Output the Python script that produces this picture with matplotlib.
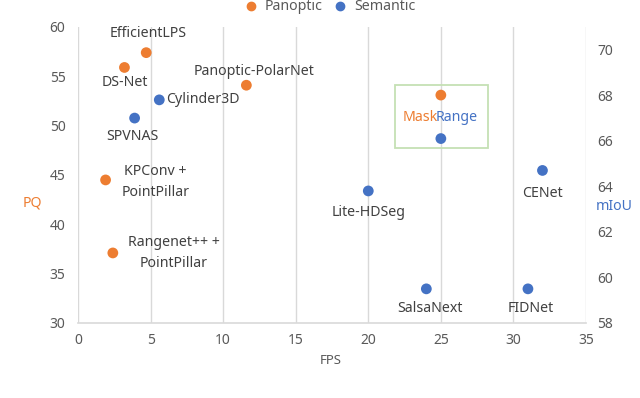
import matplotlib
matplotlib.use("Agg")
import matplotlib.pyplot as plt
from matplotlib.patches import Rectangle
from matplotlib.lines import Line2D

plt.rcParams['font.family'] = ['Noto Sans', 'DejaVu Sans']

ORANGE = '#ED7D31'
BLUE = '#4472C4'
GRAY = '#595959'
GRID = '#d9d9d9'
LBL = '#404040'
FS = 10.2

# Panoptic (PQ, left axis)
pan_names = ['EfficientLPS', 'DS-Net', 'Panoptic-PolarNet', 'KPConv +\nPointPillar',
             'Rangenet++ +\nPointPillar', 'MaskRange']
pan_fps = [4.7, 3.2, 11.6, 1.9, 2.4, 25.0]
pan_pq = [57.4, 55.9, 54.1, 44.5, 37.1, 53.1]

# Semantic (mIoU, right axis)
sem_names = ['Cylinder3D', 'SPVNAS', 'MaskRange', 'CENet', 'Lite-HDSeg', 'SalsaNext', 'FIDNet']
sem_fps = [5.6, 3.9, 25.0, 32.0, 20.0, 24.0, 31.0]
sem_miou = [67.8, 67.0, 66.1, 64.7, 63.8, 59.5, 59.5]

x_ticks = [0, 5, 10, 15, 20, 25, 30, 35]
pq_ticks = [30, 35, 40, 45, 50, 55, 60]
miou_ticks = [58, 60, 62, 64, 66, 68, 70]

# label offsets in pixels (style only)
pan_off = {'EfficientLPS': (2, 19, 'center'), 'DS-Net': (0, -15, 'center'),
           'Panoptic-PolarNet': (8, 14, 'center'), 'KPConv +\nPointPillar': (50, -2, 'center'),
           'Rangenet++ +\nPointPillar': (61, 0, 'center')}
sem_off = {'Cylinder3D': (7, 0, 'left'), 'SPVNAS': (-2, -18, 'center'),
           'CENet': (0, -23, 'center'), 'Lite-HDSeg': (0, -22, 'center'),
           'SalsaNext': (4, -20, 'center'), 'FIDNet': (3, -20, 'center')}

fig = plt.figure(figsize=(6.4, 3.98), dpi=100)
ax = fig.add_axes([78/640, 1-323/398, (586-78)/640, (323-27)/398])
ax2 = ax.twinx()

ax.set_xlim(0, 35)
ax.set_ylim(30, 60)
ax2.set_ylim(58, 71)
ax.set_xticks(x_ticks)
ax.set_yticks(pq_ticks)
ax2.set_yticks(miou_ticks)

for a in (ax, ax2):
    for s in a.spines.values():
        s.set_visible(False)
    a.tick_params(length=0, colors=GRAY, labelsize=10)
ax.spines['bottom'].set_visible(True)
ax.spines['bottom'].set_color(GRID)
ax.spines['bottom'].set_linewidth(1.2)
ax.tick_params(axis='y', pad=9)
ax.tick_params(axis='x', pad=7)
ax2.tick_params(axis='y', pad=8)
ax.xaxis.grid(True, color=GRID, lw=1)
ax.set_axisbelow(True)

ax.scatter(pan_fps, pan_pq, s=60, color=ORANGE, zorder=3, edgecolors='none')
ax2.scatter(sem_fps, sem_miou, s=60, color=BLUE, zorder=3, edgecolors='none')

for n, x, y in zip(pan_names, pan_fps, pan_pq):
    if n in pan_off:
        dx, dy, ha = pan_off[n]
        ax.annotate(n, (x, y), xytext=(dx, dy), textcoords='offset pixels',
                    ha=ha, va='center', fontsize=FS, color=LBL,
                    multialignment='center', linespacing=1.5)
for n, x, y in zip(sem_names, sem_fps, sem_miou):
    if n in sem_off:
        dx, dy, ha = sem_off[n]
        ax2.annotate(n, (x, y), xytext=(dx, dy), textcoords='offset pixels',
                     ha=ha, va='center', fontsize=FS, color=LBL)

# MaskRange highlight box and two-colour label
ax.add_patch(Rectangle((21.85, 47.75), 6.4, 6.35, fill=False, edgecolor='#c5e0b4', lw=1.3, zorder=2))
t_mask = ax.text(22.4, 50.85, 'Mask', color=ORANGE, ha='left', va='center', fontsize=FS)
ax.annotate('Range', xy=(1, 0), xycoords=t_mask, xytext=(-2.5, 0), textcoords='offset pixels',
            ha='left', va='bottom', color=BLUE, fontsize=FS)

fig.text(32/640, 1-203/398, 'PQ', color=ORANGE, ha='center', va='center', fontsize=FS)
fig.text(614/640, 1-207/398, 'mIoU', color=BLUE, ha='center', va='center', fontsize=FS)
fig.text(331/640, 1-360/398, 'FPS', color=GRAY, ha='center', va='center', fontsize=9.5)

handles = [Line2D([], [], marker='o', ls='none', color=ORANGE, markersize=6),
           Line2D([], [], marker='o', ls='none', color=BLUE, markersize=6)]
fig.legend(handles, ['Panoptic', 'Semantic'], loc='center', bbox_to_anchor=(326/640, 1-7/398),
           ncol=2, frameon=False, fontsize=FS, handletextpad=0.0, columnspacing=0.2,
           labelcolor=GRAY, borderpad=0)

fig.savefig('out.png', dpi=100)
